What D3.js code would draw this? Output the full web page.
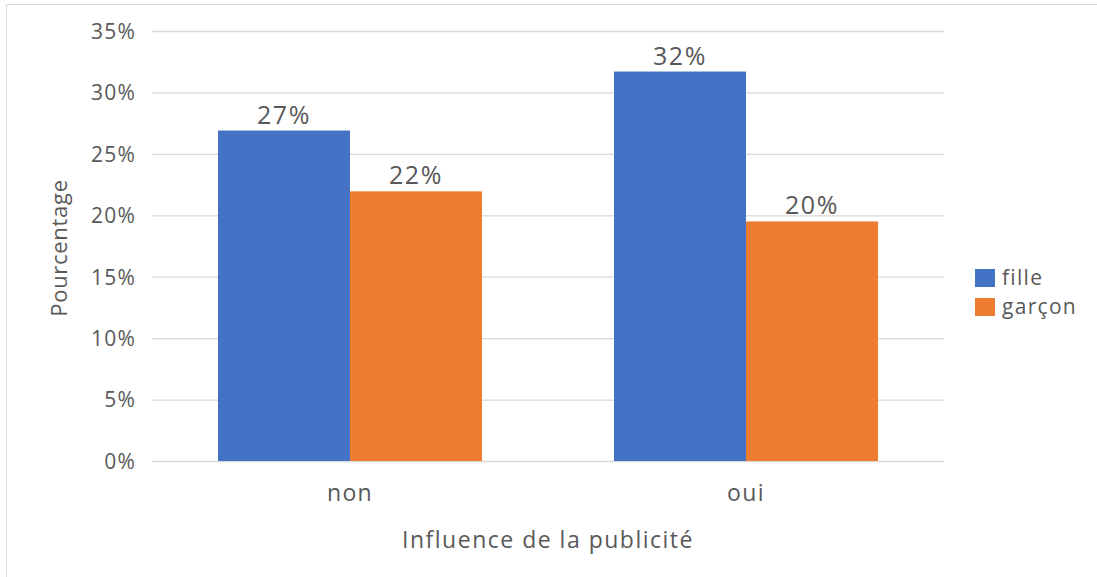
<!DOCTYPE html>
<html>
<head>
<meta charset="utf-8">
<script src="https://cdnjs.cloudflare.com/ajax/libs/d3/7.8.5/d3.min.js"></script>
<style>
  body { margin: 0; background: #fff; }
  text { font-family: "Open Sans", sans-serif; fill: #595959; }
</style>
</head>
<body>
<svg id="chart" width="1097" height="577"></svg>
<script>
"use strict";

// donnees du graphique
const categories = ["non", "oui"];
const series = ["fille", "garçon"];
const fille = [26.9, 31.7];
const garcon = [21.95, 19.5];
const yTicks = [0, 5, 10, 15, 20, 25, 30, 35];
const couleurs = ["#4472C4", "#ED7D31"];

const valeurs = [fille, garcon];
const data = [];
categories.forEach((c, i) => {
    series.forEach((s, j) => {
        data.push({ categorie: c, serie: s, valeur: valeurs[j][i] });
    });
});

const svg = d3.select("#chart");
const margin = { top: 31, bottom: 461, left: 152, right: 944 };

// cadre du graphique
svg.append("rect")
    .attr("x", 6.5).attr("y", 4.5)
    .attr("width", 1200).attr("height", 700)
    .attr("fill", "#fff")
    .attr("stroke", "#d9d9d9");

const x = d3.scaleBand().domain(categories).range([margin.left, margin.right]);
const xs = d3.scaleBand().domain(series).range([0, x.bandwidth()]).paddingOuter(0.5);
const y = d3.scaleLinear().domain([0, 35]).range([margin.bottom, margin.top]);
const color = d3.scaleOrdinal().domain(series).range(couleurs);

// grille + axe y
const yAxis = d3.axisLeft(y)
    .tickValues(yTicks)
    .tickSize(-(margin.right - margin.left))
    .tickPadding(16)
    .tickFormat(d => d + "%");

const gy = svg.append("g")
    .attr("transform", "translate(" + margin.left + ",0)")
    .call(yAxis);
gy.select(".domain").remove();
gy.selectAll("line").attr("stroke", "#d9d9d9").attr("stroke-width", 1.3);
gy.selectAll("text")
    .style("font-size", "21px")
    .style("letter-spacing", "1.2px")
    .attr("dy", "0.35em");

// barres
svg.append("g").selectAll("rect")
    .data(data)
    .enter().append("rect")
    .attr("x", d => x(d.categorie) + xs(d.serie))
    .attr("width", xs.bandwidth())
    .attr("y", d => y(d.valeur))
    .attr("height", d => y(0) - y(d.valeur))
    .attr("fill", d => color(d.serie));

// etiquettes des valeurs
svg.append("g").selectAll("text")
    .data(data)
    .enter().append("text")
    .attr("x", d => x(d.categorie) + xs(d.serie) + xs.bandwidth() / 2)
    .attr("y", d => y(d.valeur) - 7)
    .attr("text-anchor", "middle")
    .style("font-size", "25px")
    .style("letter-spacing", "1.6px")
    .text(d => Math.round(d.valeur) + "%");

// axe x
const xAxis = d3.axisBottom(x).tickSize(0).tickPadding(0);
const gx = svg.append("g")
    .attr("transform", "translate(0," + margin.bottom + ")")
    .call(xAxis);
gx.select(".domain").remove();
gx.selectAll("text")
    .attr("y", 40)
    .attr("dy", 0)
    .style("font-size", "23px")
    .style("letter-spacing", "1.4px");

// titres des axes
svg.append("text")
    .attr("x", (margin.left + margin.right) / 2)
    .attr("y", 548)
    .attr("text-anchor", "middle")
    .style("font-size", "23px")
    .style("letter-spacing", "1.5px")
    .text("Influence de la publicité");

svg.append("text")
    .attr("transform", "translate(67," + 248 + ") rotate(-90)")
    .attr("text-anchor", "middle")
    .style("font-size", "22px")
    .style("letter-spacing", "0.7px")
    .text("Pourcentage");

// legende
const leyenda = svg.selectAll(".legende")
    .data(series)
    .enter().append("g")
    .attr("class", "legende")
    .attr("transform", (d, i) => "translate(975," + (269 + i * 29) + ")");
leyenda.append("rect")
    .attr("width", 20).attr("height", 18)
    .attr("fill", d => color(d));
leyenda.append("text")
    .attr("x", 27)
    .attr("y", 16)
    .style("font-size", "21px")
    .style("letter-spacing", "1.3px")
    .text(d => d);
</script>
</body>
</html>
